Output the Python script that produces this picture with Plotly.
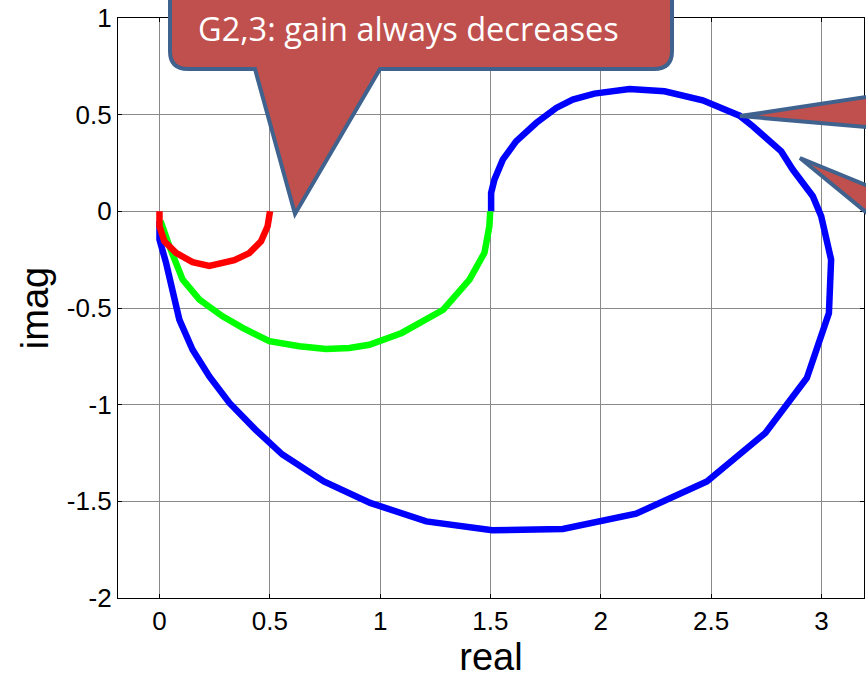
import plotly.graph_objects as go

# ---- data ----
red_re = [0.0, 0.0, 0.022, 0.075, 0.15, 0.226, 0.339, 0.407, 0.46, 0.49, 0.501]
red_im = [0.0, -0.077, -0.155, -0.215, -0.263, -0.282, -0.253, -0.216, -0.155, -0.077, 0.0]

green_re = [0.005, 0.015, 0.045, 0.105, 0.181, 0.286, 0.377, 0.498, 0.634, 0.755, 0.861,
            0.951, 1.098, 1.286, 1.405, 1.473, 1.495, 1.499]
green_im = [-0.05, -0.078, -0.181, -0.353, -0.457, -0.543, -0.603, -0.672, -0.698, -0.712, -0.707,
            -0.69, -0.629, -0.509, -0.353, -0.214, -0.078, 0.0]

blue_re = [0.0, 0.0, 0.030, 0.060, 0.090, 0.150, 0.226, 0.317, 0.435, 0.557, 0.745, 0.955,
           1.209, 1.508, 1.828, 2.160, 2.481, 2.746, 2.934, 3.034, 3.044, 2.999, 2.961,
           2.870, 2.818, 2.689, 2.629, 2.462, 2.289, 2.130, 1.971, 1.873, 1.798, 1.707,
           1.616, 1.556, 1.518, 1.503, 1.503]
blue_im = [-0.05, -0.146, -0.267, -0.422, -0.560, -0.716, -0.854, -0.991, -1.129, -1.258, -1.397,
           -1.508, -1.604, -1.650, -1.643, -1.564, -1.397, -1.146, -0.862, -0.526, -0.250,
           -0.026, 0.078, 0.216, 0.310, 0.440, 0.495, 0.574, 0.621, 0.633, 0.609, 0.578,
           0.535, 0.457, 0.362, 0.267, 0.164, 0.095, 0.0]

x_ticks = [0, 0.5, 1, 1.5, 2, 2.5, 3]
x_tick_labels = ["0", "0.5", "1", "1.5", "2", "2.5", "3"]
y_ticks = [-2, -1.5, -1, -0.5, 0, 0.5, 1]
y_tick_labels = ["-2", "-1.5", "-1", "-0.5", "0", "0.5", "1"]

callout_text = "G2,3: gain always decreases"

# ---- figure ----
W, H = 866, 679
ML, MR, MT, MB = 118, 2, 18, 81
PW, PH = W - ML - MR, H - MT - MB


def px(x):
    return (x - ML) / PW


def py(y):
    return (H - MB - y) / PH


fig = go.Figure()
lw = 6.5
fig.add_trace(go.Scatter(x=blue_re, y=blue_im, mode="lines",
                         line=dict(color="#0000FF", width=lw), hoverinfo="skip"))
fig.add_trace(go.Scatter(x=green_re, y=green_im, mode="lines",
                         line=dict(color="#00FF00", width=lw), hoverinfo="skip"))
fig.add_trace(go.Scatter(x=red_re, y=red_im, mode="lines",
                         line=dict(color="#FF0000", width=lw), hoverinfo="skip"))

axis_common = dict(
    showline=True, linecolor="black", linewidth=1.3, mirror="ticks",
    ticks="inside", ticklen=4, tickcolor="black",
    showgrid=True, gridcolor="#8a8a8a", gridwidth=1,
    zeroline=False,
    tickfont=dict(family="Liberation Sans, Arial", size=26, color="black"),
)

fig.update_xaxes(range=[-0.188, 3.193], tickvals=x_ticks, ticktext=x_tick_labels,
                 title=dict(text="real", font=dict(family="Liberation Sans, Arial", size=38, color="black"),
                            standoff=2),
                 **axis_common)
fig.update_yaxes(range=[-2, 1], tickvals=y_ticks, ticktext=y_tick_labels,
                 title=dict(text="imag", font=dict(family="Liberation Sans, Arial", size=38, color="black"),
                            standoff=6),
                 **axis_common)

# ---- callouts (paper coordinates from pixel positions) ----
fill = "#C0504D"
edge = "#3F628E"


def P(x, y):
    return f"{px(x):.5f},{py(y):.5f}"


r = 18
main_path = (
    f"M {P(170 + r, 69)} L {P(255, 69)} L {P(295, 214)} L {P(380, 69)} "
    f"L {P(672 - r, 69)} Q {P(672, 69)} {P(672, 69 - r)} L {P(672, -30)} "
    f"L {P(170, -30)} L {P(170, 69 - r)} Q {P(170, 69)} {P(170 + r, 69)} Z"
)
fig.add_shape(type="path", xref="paper", yref="paper", path=main_path,
              fillcolor=fill, line=dict(color=edge, width=4), layer="above")

tri1 = f"M {P(740, 116)} L {P(900, 92)} L {P(900, 130)} Z"
fig.add_shape(type="path", xref="paper", yref="paper", path=tri1,
              fillcolor=fill, line=dict(color=edge, width=4), layer="above")
tri2 = f"M {P(800, 158)} L {P(900, 199)} L {P(900, 240)} Z"
fig.add_shape(type="path", xref="paper", yref="paper", path=tri2,
              fillcolor=fill, line=dict(color=edge, width=4), layer="above")

fig.add_annotation(xref="paper", yref="paper", x=px(408), y=py(29),
                   text=callout_text, showarrow=False, xanchor="center", yanchor="middle",
                   font=dict(family="Open Sans", size=32.5, color="white"))

fig.update_layout(
    width=W, height=H,
    margin=dict(l=ML, r=MR, t=MT, b=MB),
    paper_bgcolor="white", plot_bgcolor="white",
    showlegend=False,
)

fig.write_html("out.html", config={"displayModeBar": False},
               post_script="document.body.style.margin='0';document.body.style.overflow='hidden';")
